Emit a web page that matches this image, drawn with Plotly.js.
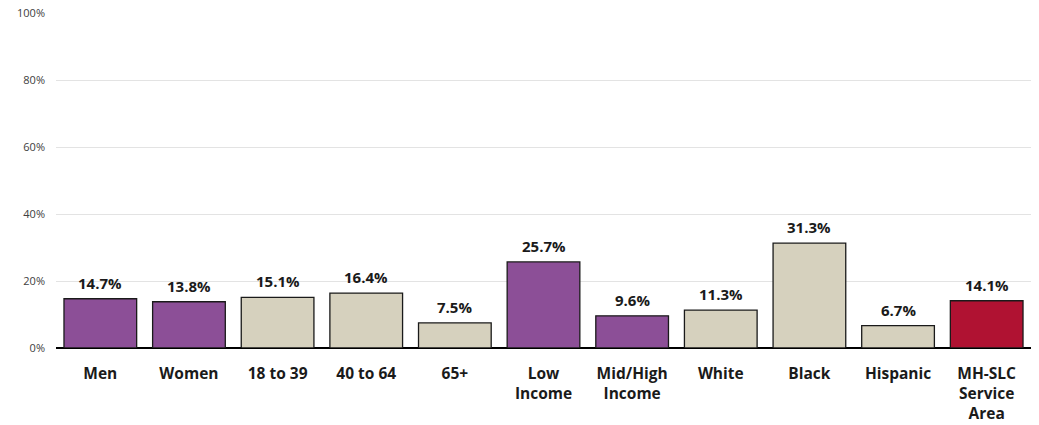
<!DOCTYPE html>
<html>
<head>
<meta charset="utf-8">
<script src="https://cdn.plot.ly/plotly-3.0.1.min.js"></script>
<style>html,body{margin:0;padding:0;background:#fff}#chart{width:1039px;height:425px}</style>
</head>
<body>
<div id="chart"></div>
<script>
const categories = ["Men", "Women", "18 to 39", "40 to 64", "65+", "Low<br>Income", "Mid/High<br>Income", "White", "Black", "Hispanic", "MH-SLC<br>Service<br>Area"];
const values = [14.7, 13.8, 15.1, 16.4, 7.5, 25.7, 9.6, 11.3, 31.3, 6.7, 14.1];
const groups = ["sex", "sex", "age", "age", "age", "income", "income", "race", "race", "race", "total"];
const yTicks = [0, 20, 40, 60, 80, 100];

const groupColors = {sex: "#8C4F97", age: "#D6D1BE", income: "#8C4F97", race: "#D6D1BE", total: "#B01232"};
const font = "'Open Sans', 'Noto Sans', 'DejaVu Sans', sans-serif";

const trace = {
  type: "bar",
  x: categories,
  y: values,
  marker: {color: groups.map(g => groupColors[g]), line: {color: "#1a1a1a", width: 1.3}},
  hoverinfo: "x+y"
};

const labels = categories.map((c, i) => ({
  x: c, y: values[i], xref: "x", yref: "y",
  text: values[i].toFixed(1) + "%",
  showarrow: false, yanchor: "bottom", yshift: 4,
  font: {family: font, size: 15, color: "#1a1a1a", weight: "bold"}
}));

const layout = {
  width: 1039, height: 425,
  margin: {l: 56, r: 8, t: 13, b: 77},
  paper_bgcolor: "#fff", plot_bgcolor: "#fff",
  bargap: 0.18,
  showlegend: false,
  font: {family: font},
  annotations: labels,
  xaxis: {
    type: "category",
    tickfont: {family: font, size: 15.5, color: "#1a1a1a", weight: "bold"},
    ticks: "outside", ticklen: 11, tickcolor: "rgba(0,0,0,0)",
    showline: false, showgrid: false
  },
  yaxis: {
    range: [0, 100],
    tickvals: yTicks,
    ticktext: yTicks.map(v => v + "%"),
    tickfont: {family: font, size: 11, color: "#404040"},
    ticklabelstandoff: 10,
    showgrid: true, gridcolor: "#e3e3e3", gridwidth: 1,
    zeroline: true, zerolinecolor: "#000", zerolinewidth: 1.5,
    fixedrange: true
  }
};

Plotly.newPlot("chart", [trace], layout, {displayModeBar: false, staticPlot: true});
</script>
</body>
</html>
